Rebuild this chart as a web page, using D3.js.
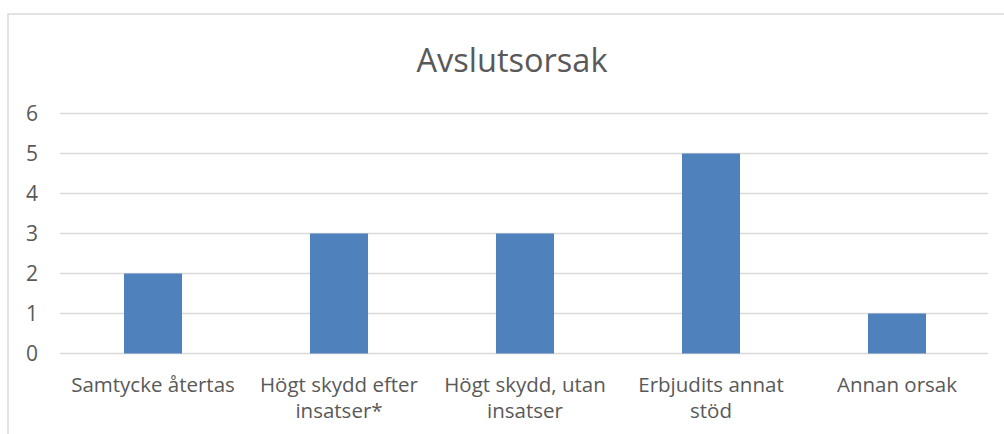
<!DOCTYPE html>
<html><head><meta charset="utf-8">
<script src="https://cdn.jsdelivr.net/npm/d3@7"></script>
<style>
html,body{margin:0;padding:0;background:#fff;}
svg{display:block;}
text{font-family:"Open Sans","Noto Sans",sans-serif;fill:#595959;}
</style></head>
<body><svg id="c" width="1004" height="434"></svg>
<script>
const title = "Avslutsorsak";
const categories = ["Samtycke återtas", "Högt skydd efter\ninsatser*", "Högt skydd, utan\ninsatser", "Erbjudits annat\nstöd", "Annan orsak"];
const values = [2, 3, 3, 5, 1];
const yTicks = [0, 1, 2, 3, 4, 5, 6];

const svg = d3.select("#c");
// chart border (extends past right/bottom)
svg.append("rect").attr("x", 8).attr("y", 14).attr("width", 1100).attr("height", 500)
  .attr("fill", "none").attr("stroke", "#D9D9D9").attr("stroke-width", 1.5);

const x = d3.scaleBand().domain(categories).range([60, 990]).padding(0);
const y = d3.scaleLinear().domain([0, 6]).range([353.5, 113.5]);

svg.append("text").attr("x", 512).attr("y", 72).attr("text-anchor", "middle")
  .style("font-size", "32.5px").text(title);

// gridlines
svg.append("g").selectAll("line").data(yTicks).join("line")
  .attr("x1", 60).attr("x2", 988)
  .attr("y1", d => y(d)).attr("y2", d => y(d))
  .attr("stroke", "#D9D9D9").attr("stroke-width", 1.5);

// y axis labels
const yAxis = d3.axisLeft(y).tickValues(yTicks).tickFormat(d3.format("d")).tickSize(0).tickPadding(0);
const ya = svg.append("g").attr("transform", "translate(38,0)").call(yAxis);
ya.select(".domain").remove();
ya.selectAll("text").style("font-size", "21px").attr("fill", "#595959")
  .style("font-family", '"Open Sans","Noto Sans",sans-serif');

// bars
const bw = x.bandwidth() * 0.312;
svg.append("g").selectAll("rect").data(values).join("rect")
  .attr("x", (d, i) => x(categories[i]) + x.bandwidth() / 2 - bw / 2)
  .attr("width", bw)
  .attr("y", d => y(d))
  .attr("height", d => y(0) - y(d))
  .attr("fill", "#4F81BD");

// category labels
const lab = svg.append("g").selectAll("text").data(categories).join("text")
  .attr("x", d => x(d) + x.bandwidth() / 2)
  .attr("y", 392)
  .attr("text-anchor", "middle")
  .style("font-size", "20.5px");
lab.each(function(d) {
  const t = d3.select(this);
  d.split("\n").forEach((line, i) => {
    t.append("tspan").attr("x", x(d) + x.bandwidth() / 2).attr("dy", i === 0 ? 0 : 26).text(line);
  });
});
</script></body></html>
